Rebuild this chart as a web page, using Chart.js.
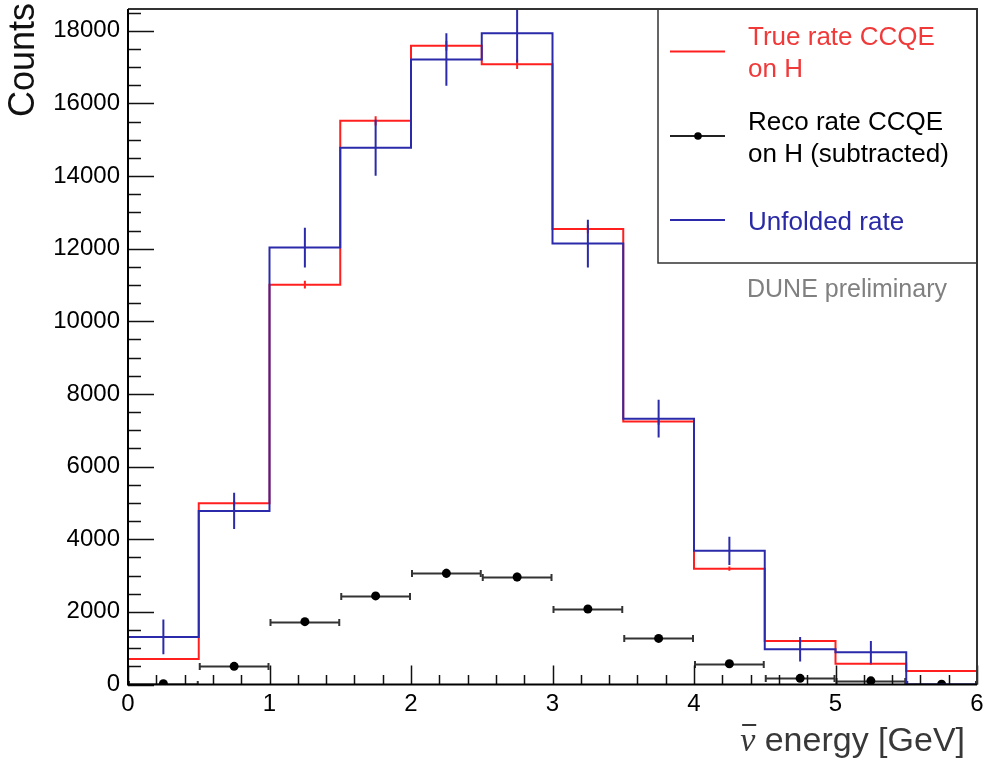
<!doctype html>
<html>
<head>
<meta charset="utf-8">
<script src="https://cdn.jsdelivr.net/npm/chart.js@4.4.1/dist/chart.umd.min.js"></script>
<style>
html, body { margin: 0; padding: 0; background: #fff; }
</style>
</head>
<body>
<canvas id="hist" width="984" height="759"></canvas>
<script>
// antineutrino energy bins, GeV
const binEdges = [0, 0.5, 1, 1.5, 2, 2.5, 3, 3.5, 4, 4.5, 5, 5.5, 6];

const trueRate = [700, 4990, 11010, 15520, 17590, 17080, 12540, 7240, 3190, 1200, 570, 370];
const trueErr = [26, 70, 105, 125, 133, 131, 112, 85, 56, 35, 24, 19];

const recoRate = [20, 500, 1730, 2440, 3060, 2960, 2080, 1270, 570, 170, 100, 10];
const recoErr = [10, 50, 90, 110, 125, 120, 100, 80, 55, 30, 22, 8];

const unfoldedRate = [1310, 4780, 12030, 14780, 17210, 17930, 12140, 7320, 3680, 970, 890, 0];
const unfoldedErr = [480, 500, 550, 770, 720, 800, 660, 520, 390, 340, 310, 0];

const xTicks = [0, 1, 2, 3, 4, 5, 6];
const yTicks = [0, 2000, 4000, 6000, 8000, 10000, 12000, 14000, 16000, 18000];
const yMax = 18600;

const FONT = "'Liberation Sans', Arial, sans-serif";
const RED = '#ff1f1f';
const BLUE = '#2a2aaa';
const BLACK = '#222';

// histogram outline: one point per left bin edge plus the closing edge
function stepPoints(vals) {
  const pts = vals.map((v, i) => ({ x: binEdges[i], y: v }));
  pts.push({ x: binEdges[binEdges.length - 1], y: vals[vals.length - 1] });
  return pts;
}
const centers = recoRate.map((v, i) => (binEdges[i] + binEdges[i + 1]) / 2);

function vErrors(ctx, xs, ys, vals, errs, color) {
  ctx.strokeStyle = color;
  ctx.lineWidth = 2;
  for (let i = 0; i < vals.length; i++) {
    if (!errs[i]) continue;
    const px = xs.getPixelForValue(centers[i]);
    ctx.beginPath();
    ctx.moveTo(px, ys.getPixelForValue(vals[i] - errs[i]));
    ctx.lineTo(px, ys.getPixelForValue(vals[i] + errs[i]));
    ctx.stroke();
  }
}

const errorBars = {
  id: 'errorBars',
  beforeDatasetDraw(chart, args) {
    const { ctx, chartArea: a } = chart;
    const xs = chart.scales.x, ys = chart.scales.y;
    if (args.meta.label !== 'reco') return;
    ctx.save();
    ctx.beginPath();
    ctx.rect(a.left, a.top, a.right - a.left, a.bottom - a.top);
    ctx.clip();
    ctx.strokeStyle = '#333';
    ctx.lineWidth = 2;
    for (let i = 0; i < recoRate.length; i++) {
      const y = Math.round(ys.getPixelForValue(recoRate[i])) + 0.5;
      const x0 = xs.getPixelForValue(binEdges[i]);
      const x1 = xs.getPixelForValue(binEdges[i + 1]);
      ctx.beginPath();
      ctx.moveTo(x0, y); ctx.lineTo(x1, y);
      ctx.moveTo(x0 + 1, y - 3.5); ctx.lineTo(x0 + 1, y + 3.5);
      ctx.moveTo(x1 - 1, y - 3.5); ctx.lineTo(x1 - 1, y + 3.5);
      ctx.stroke();
    }
    vErrors(ctx, xs, ys, recoRate, recoErr, '#333');
    ctx.restore();
  },
  afterDatasetDraw(chart, args) {
    const { ctx, chartArea: a } = chart;
    const xs = chart.scales.x, ys = chart.scales.y;
    const name = args.meta.label;
    if (name !== 'true' && name !== 'unfolded') return;
    ctx.save();
    ctx.beginPath();
    ctx.rect(a.left, a.top, a.right - a.left, a.bottom - a.top);
    ctx.clip();
    if (name === 'true') vErrors(ctx, xs, ys, trueRate, trueErr, RED);
    else vErrors(ctx, xs, ys, unfoldedRate, unfoldedErr, BLUE);
    ctx.restore();
  }
};

// ROOT style frame: inward ticks, legend box, titles
const rootFrame = {
  id: 'rootFrame',
  afterDraw(chart) {
    const { ctx, chartArea: a } = chart;
    const xs = chart.scales.x, ys = chart.scales.y;
    ctx.save();

    // ticks
    ctx.strokeStyle = '#111';
    ctx.lineWidth = 1.5;
    ctx.beginPath();
    for (let v = 0; v <= yMax; v += 500) {
      const py = Math.round(ys.getPixelForValue(v)) + 0.5;
      const len = v % 2000 === 0 ? 26 : 13;
      ctx.moveTo(a.left, py); ctx.lineTo(a.left + len, py);
    }
    for (let k = 0; k <= 30; k++) {
      const v = k * 0.2;
      const px = Math.round(xs.getPixelForValue(v)) + 0.5;
      const len = k % 5 === 0 ? 19 : 9.5;
      ctx.moveTo(px, a.bottom); ctx.lineTo(px, a.bottom - len);
    }
    ctx.stroke();

    // frame
    ctx.lineWidth = 2;
    ctx.strokeStyle = '#333';
    ctx.beginPath();
    ctx.moveTo(a.left, a.top); ctx.lineTo(a.right, a.top); ctx.lineTo(a.right, a.bottom);
    ctx.stroke();
    ctx.strokeStyle = '#000';
    ctx.beginPath();
    ctx.moveTo(a.left, a.top); ctx.lineTo(a.left, a.bottom); ctx.lineTo(a.right, a.bottom);
    ctx.stroke();

    // legend
    const lx = 658, ly = a.top, lb = 263;
    ctx.fillStyle = '#fff';
    ctx.fillRect(lx, ly + 1, a.right - lx - 1, lb - ly - 1);
    ctx.strokeStyle = '#333';
    ctx.lineWidth = 1.5;
    ctx.beginPath();
    ctx.moveTo(lx, ly); ctx.lineTo(lx, lb); ctx.lineTo(a.right, lb);
    ctx.stroke();

    const entries = [
      { y: 51.5, color: RED, text: ['True rate CCQE', 'on H'], base: 45, tc: '#f03a3a' },
      { y: 136, color: BLACK, text: ['Reco rate CCQE', 'on H (subtracted)'], base: 129.5, tc: '#000', dot: true },
      { y: 220, color: BLUE, text: ['Unfolded rate'], base: 230, tc: '#2a2aa6' }
    ];
    ctx.font = '26px ' + FONT;
    ctx.textAlign = 'left';
    ctx.textBaseline = 'alphabetic';
    entries.forEach(e => {
      ctx.strokeStyle = e.color;
      ctx.lineWidth = 2;
      ctx.beginPath();
      ctx.moveTo(670, e.y); ctx.lineTo(725, e.y);
      ctx.stroke();
      if (e.dot) {
        ctx.fillStyle = '#000';
        ctx.beginPath();
        ctx.arc(698, e.y, 3.8, 0, Math.PI * 2);
        ctx.fill();
      }
      ctx.fillStyle = e.tc;
      e.text.forEach((t, j) => ctx.fillText(t, 748, e.base + j * 32));
    });

    ctx.fillStyle = '#808080';
    ctx.font = '25px ' + FONT;
    ctx.textAlign = 'right';
    ctx.fillText('DUNE preliminary', 947, 297);

    // x title: nu with a bar over it, then the rest
    ctx.fillStyle = '#383838';
    ctx.font = '34px ' + FONT;
    ctx.textAlign = 'right';
    const rest = ' energy [GeV]';
    ctx.fillText(rest, 965, 751);
    const restW = ctx.measureText(rest).width;
    ctx.font = "italic 34px 'Liberation Serif', serif";
    const nuW = ctx.measureText('\u03BD').width;
    const nuX = 965 - restW - nuW;
    ctx.textAlign = 'left';
    ctx.fillText('\u03BD', nuX, 751);
    ctx.strokeStyle = '#383838';
    ctx.lineWidth = 2;
    ctx.beginPath();
    ctx.moveTo(nuX + 2, 725); ctx.lineTo(nuX + nuW + 1, 725);
    ctx.stroke();

    ctx.fillStyle = '#111';
    ctx.font = '36px ' + FONT;
    ctx.translate(34, 3);
    ctx.rotate(-Math.PI / 2);
    ctx.textAlign = 'right';
    ctx.fillText('Counts', 0, 0);
    ctx.restore();
  }
};

new Chart(document.getElementById('hist'), {
  data: {
    datasets: [
      {
        type: 'line', label: 'true', order: 3,
        data: stepPoints(trueRate), stepped: true,
        borderColor: RED, borderWidth: 2, pointRadius: 0, fill: false
      },
      {
        type: 'scatter', label: 'reco', order: 2,
        data: recoRate.map((v, i) => ({ x: centers[i], y: v })),
        pointRadius: 4.5, pointBackgroundColor: '#000', pointBorderColor: '#000', pointBorderWidth: 0
      },
      {
        type: 'line', label: 'unfolded', order: 1,
        data: stepPoints(unfoldedRate), stepped: true,
        borderColor: BLUE, borderWidth: 2, pointRadius: 0, fill: false
      }
    ]
  },
  options: {
    responsive: false,
    animation: false,
    devicePixelRatio: 1,
    layout: { padding: { top: 9, right: 7, left: 0, bottom: 0 } },
    plugins: { legend: { display: false }, tooltip: { enabled: false } },
    scales: {
      x: {
        type: 'linear', min: 0, max: 6,
        grid: { display: false, drawTicks: false },
        border: { display: false },
        ticks: { font: { family: FONT, size: 24 }, color: '#000', padding: 5, maxRotation: 0, autoSkip: false,
                 callback: v => String(v) },
        afterBuildTicks: s => { s.ticks = xTicks.map(v => ({ value: v })); },
        afterFit: s => { s.height = 74.5; s.paddingLeft = 0; s.paddingRight = 0; }
      },
      y: {
        type: 'linear', min: 0, max: yMax,
        grid: { display: false, drawTicks: false },
        border: { display: false },
        ticks: { font: { family: FONT, size: 24 }, color: '#000', padding: 8, autoSkip: false,
                 callback: v => String(v) },
        afterBuildTicks: s => { s.ticks = yTicks.map(v => ({ value: v })); },
        afterFit: s => { s.width = 128; s.paddingTop = 0; s.paddingBottom = 0; }
      }
    }
  },
  plugins: [errorBars, rootFrame]
});
</script>
</body>
</html>
